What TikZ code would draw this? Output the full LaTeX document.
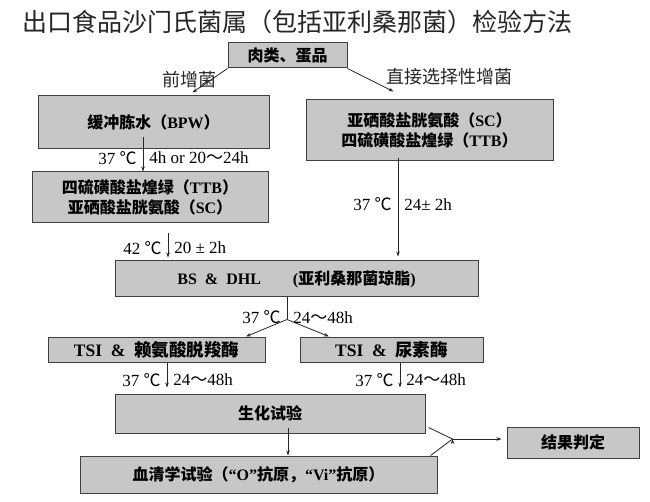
\documentclass[tikz,border=0pt]{standalone}
\usepackage{fontspec}
\setmainfont{Liberation Serif}
\newfontfamily\cjk{Noto Sans CJK SC}
\newcommand{\zh}[1]{{\cjk #1}}
\usetikzlibrary{positioning,arrows.meta}
\tikzset{
  box/.style={draw=black!75, line width=1pt, fill=black!22, inner sep=0pt, align=center,
    font=\fontsize{16}{20}\selectfont\bfseries},
  widebox/.style={box, font=\fontsize{17.5}{20}\selectfont\bfseries},
  arr/.style={-{Stealth[length=5pt,width=3.5pt]}, draw=black!85, line width=0.8pt},
  lbl/.style={font=\fontsize{17}{17}\selectfont, inner sep=6pt},
  note/.style={font=\cjk\fontsize{18}{18}\selectfont, text=black!85}
}
\begin{document}
\begin{tikzpicture}
  \useasboundingbox[fill=white] (0,0) rectangle (650pt,-502pt);
  \node (title) [anchor=west, font=\cjk\fontsize{25}{25}\selectfont, text=black!85] at (19pt,-22pt) {出口食品沙门氏菌属（包括亚利桑那菌）检验方法};
  \node (food) [box, minimum width=119pt, minimum height=25pt] at (287.5pt,-55.5pt) {\zh{肉类、蛋品}};
  \node (bpw) [box, below of=food, node distance=67pt, xshift=-134pt, minimum width=231pt, minimum height=53pt] {\zh{缓冲胨水（}BPW\zh{）}};
  \node (sc) [box, below of=food, node distance=75pt, xshift=142pt, minimum width=247pt, minimum height=61pt] {\zh{亚硒酸盐胱氨酸（}SC\zh{）}\\\zh{四硫磺酸盐煌绿（}TTB\zh{）}};
  \node (ttb) [box, below of=bpw, node distance=75pt, xshift=-3.5pt, minimum width=236pt, minimum height=51pt] {\zh{四硫磺酸盐煌绿（}TTB\zh{）}\\\zh{亚硒酸盐胱氨酸（}SC\zh{）}};
  \node (bs) [box, below of=ttb, node distance=81.5pt, xshift=146.5pt, minimum width=363pt, minimum height=36pt] {BS\ \ \&\ \ DHL\hspace{32pt}(\zh{亚利桑那菌琼脂})};
  \node (tsil) [widebox, below of=bs, node distance=70.5pt, xshift=-140pt, minimum width=217pt, minimum height=25pt] {TSI\ \ \&\ \ \zh{赖氨酸脱羧酶}};
  \node (tsiu) [widebox, below of=bs, node distance=70.5pt, xshift=95pt, minimum width=183pt, minimum height=25pt] {TSI\ \ \&\ \ \zh{尿素酶}};
  \node (bio) [box, below of=tsil, node distance=64pt, xshift=113.5pt, minimum width=310pt, minimum height=39pt] {\zh{生化试验}};
  \node (sero) [box, below of=bio, node distance=61pt, xshift=-11.5pt, minimum width=357pt, minimum height=37pt] {\zh{血清学试验（}“O”\zh{抗原，}“Vi”\zh{抗原）}};
  \node (result) [box, below of=bio, node distance=29pt, xshift=303pt, minimum width=132pt, minimum height=31pt] {\zh{结果判定}};
  \node (pre) [note] at (189pt,-80pt) {前增菌};
  \node (direct) [note] at (449.5pt,-77pt) {直接选择性增菌};
  \coordinate (fork) at ([xshift=-9.5pt,yshift=-22pt]bs.south);
  \coordinate (join) at ([xshift=-54pt,yshift=3.5pt]result.west);
  % arrows
  \path[arr] (food.south west) edge ([xshift=155pt,yshift=3pt]bpw.north west)
             (food.south east) edge ([xshift=88pt,yshift=8pt]sc.north west)
             ([xshift=-10.5pt,yshift=12pt]bpw.south) edge node[lbl,left,pos=0.6] {37 \zh{℃}} node[lbl,right,pos=0.6] {4h or 20\zh{～}24h} ([xshift=-7pt]ttb.north)
             ([xshift=18pt,yshift=-10pt]ttb.south) edge node[lbl,left,pos=0.6] {42 \zh{℃}} node[lbl,right,pos=0.6] {20 ± 2h} ([xshift=-128.5pt,yshift=3pt]bs.north)
             ([xshift=-31.5pt,yshift=3pt]sc.south) edge node[lbl,left,pos=0.47] {37 \zh{℃}} node[lbl,right,pos=0.47] {24± 2h} ([xshift=101.5pt,yshift=4pt]bs.north)
             (fork) edge ([xshift=89.5pt]tsil.north)
             (fork) edge ([xshift=-62.5pt]tsiu.north)
             ([xshift=10.5pt]tsil.south) edge node[lbl,left,pos=0.7] {37 \zh{℃}} node[lbl,right,pos=0.7] {24\zh{～}48h} ([xshift=-103pt,yshift=6pt]bio.north)
             ([xshift=8.5pt]tsiu.south) edge node[lbl,left,pos=0.7] {37 \zh{℃}} node[lbl,right,pos=0.7] {24\zh{～}48h} ([xshift=130pt,yshift=6pt]bio.north)
             ([xshift=18pt,yshift=6pt]bio.south) edge ([xshift=29.5pt]sero.north)
             (join) edge ([xshift=-5pt,yshift=3.5pt]result.west);
  \draw[draw=black!85, line width=0.8pt] ([xshift=-9.5pt]bs.south) -- (fork) node[lbl,left,pos=0.9] {37 \zh{℃}} node[lbl,right,pos=0.9] {24\zh{～}48h};
  \draw[draw=black!85, line width=0.8pt] ([xshift=3pt,yshift=6pt]bio.south east) -- (join) -- ([xshift=-7pt]sero.north east);
\end{tikzpicture}
\end{document}
